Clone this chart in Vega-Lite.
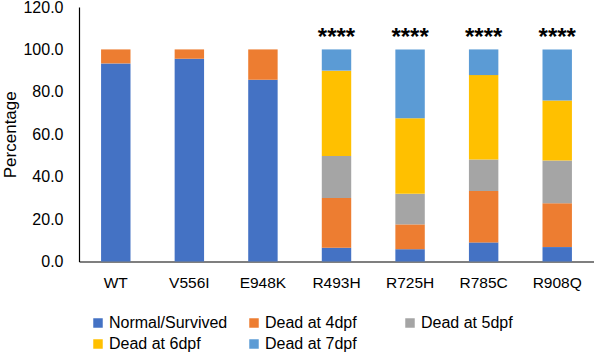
{
  "$schema": "https://vega.github.io/schema/vega-lite/v6.json",
  "autosize": "none",
  "width": 515,
  "height": 254.5,
  "padding": {"left": 79, "top": 7, "right": 0, "bottom": 93.5},
  "background": "white",
  "config": {
    "font": "Liberation Sans",
    "view": {"stroke": null},
    "axis": {"labelFont": "Liberation Sans", "titleFont": "Liberation Sans", "labelColor": "#000", "titleColor": "#000", "grid": false, "ticks": false, "domainColor": "#000", "domainWidth": 1.2},
    "legend": {"labelFont": "Liberation Sans", "labelColor": "#000"}
  },
  "datasets": {
    "bars": [
      {"group": "WT", "outcome": "Normal/Survived", "k": 0, "pct": 93.4},
      {"group": "WT", "outcome": "Dead at 4dpf", "k": 1, "pct": 6.6},
      {"group": "V556I", "outcome": "Normal/Survived", "k": 0, "pct": 95.6},
      {"group": "V556I", "outcome": "Dead at 4dpf", "k": 1, "pct": 4.4},
      {"group": "E948K", "outcome": "Normal/Survived", "k": 0, "pct": 85.7},
      {"group": "E948K", "outcome": "Dead at 4dpf", "k": 1, "pct": 14.3},
      {"group": "R493H", "outcome": "Normal/Survived", "k": 0, "pct": 6.5},
      {"group": "R493H", "outcome": "Dead at 4dpf", "k": 1, "pct": 23.4},
      {"group": "R493H", "outcome": "Dead at 5dpf", "k": 2, "pct": 19.8},
      {"group": "R493H", "outcome": "Dead at 6dpf", "k": 3, "pct": 40.3},
      {"group": "R493H", "outcome": "Dead at 7dpf", "k": 4, "pct": 10.0},
      {"group": "R725H", "outcome": "Normal/Survived", "k": 0, "pct": 5.8},
      {"group": "R725H", "outcome": "Dead at 4dpf", "k": 1, "pct": 11.7},
      {"group": "R725H", "outcome": "Dead at 5dpf", "k": 2, "pct": 14.4},
      {"group": "R725H", "outcome": "Dead at 6dpf", "k": 3, "pct": 35.7},
      {"group": "R725H", "outcome": "Dead at 7dpf", "k": 4, "pct": 32.4},
      {"group": "R785C", "outcome": "Normal/Survived", "k": 0, "pct": 9.0},
      {"group": "R785C", "outcome": "Dead at 4dpf", "k": 1, "pct": 24.2},
      {"group": "R785C", "outcome": "Dead at 5dpf", "k": 2, "pct": 14.9},
      {"group": "R785C", "outcome": "Dead at 6dpf", "k": 3, "pct": 39.8},
      {"group": "R785C", "outcome": "Dead at 7dpf", "k": 4, "pct": 12.1},
      {"group": "R908Q", "outcome": "Normal/Survived", "k": 0, "pct": 6.8},
      {"group": "R908Q", "outcome": "Dead at 4dpf", "k": 1, "pct": 20.7},
      {"group": "R908Q", "outcome": "Dead at 5dpf", "k": 2, "pct": 20.1},
      {"group": "R908Q", "outcome": "Dead at 6dpf", "k": 3, "pct": 28.3},
      {"group": "R908Q", "outcome": "Dead at 7dpf", "k": 4, "pct": 24.1}
    ],
    "stars": [
      {"group": "R493H", "y": 105.5, "label": "****"},
      {"group": "R725H", "y": 105.5, "label": "****"},
      {"group": "R785C", "y": 105.5, "label": "****"},
      {"group": "R908Q", "y": 105.5, "label": "****"}
    ]
  },
  "encoding": {
    "x": {
      "field": "group", "type": "nominal",
      "sort": ["WT", "V556I", "E948K", "R493H", "R725H", "R785C", "R908Q"],
      "scale": {"paddingInner": 0.6, "paddingOuter": 0.3},
      "axis": {"title": null, "labelAngle": 0, "labelFontSize": 15.5, "labelPadding": 14}
    }
  },
  "layer": [
    {
      "data": {"name": "bars"},
      "mark": {"type": "bar"},
      "encoding": {
        "y": {
          "field": "pct", "type": "quantitative", "stack": "zero",
          "scale": {"domain": [0, 120]},
          "axis": {"title": "Percentage", "titleFontSize": 17, "titleFontWeight": "normal", "titlePadding": 3, "labelFontSize": 16, "format": ".1f", "values": [0, 20, 40, 60, 80, 100, 120], "labelPadding": 16}
        },
        "order": {"field": "k", "type": "quantitative", "sort": "ascending"},
        "color": {
          "field": "outcome", "type": "nominal",
          "scale": {
            "domain": ["Normal/Survived", "Dead at 4dpf", "Dead at 5dpf", "Dead at 6dpf", "Dead at 7dpf"],
            "range": ["#4472C4", "#ED7D31", "#A5A5A5", "#FFC000", "#5B9BD5"]
          },
          "legend": {
            "title": null, "orient": "none", "legendX": 11, "legendY": 308, "direction": "horizontal",
            "columns": 3, "gridAlign": "all", "columnPadding": 18, "rowPadding": 5,
            "symbolType": "square", "symbolSize": 90, "symbolStrokeWidth": 0,
            "labelFontSize": 16, "labelOffset": 3, "labelLimit": 200
          }
        }
      }
    },
    {
      "data": {"name": "stars"},
      "mark": {"type": "text", "fontSize": 24, "fontWeight": "bold", "baseline": "middle"},
      "encoding": {
        "y": {"field": "y", "type": "quantitative"},
        "text": {"field": "label"}
      }
    }
  ]
}
